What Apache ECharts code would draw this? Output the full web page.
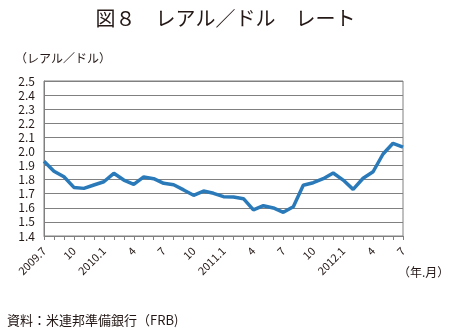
<!DOCTYPE html>
<html><head><meta charset="utf-8">
<script src="https://cdn.jsdelivr.net/npm/echarts@6/dist/echarts.min.js"></script>
<style>html,body{margin:0;padding:0;background:#fff}#c{width:451px;height:336px}</style>
</head><body><div id="c"></div>
<script>
const categories = ['2009.7','2009.8','2009.9','2009.10','2009.11','2009.12',
  '2010.1','2010.2','2010.3','2010.4','2010.5','2010.6','2010.7','2010.8','2010.9','2010.10','2010.11','2010.12',
  '2011.1','2011.2','2011.3','2011.4','2011.5','2011.6','2011.7','2011.8','2011.9','2011.10','2011.11','2011.12',
  '2012.1','2012.2','2012.3','2012.4','2012.5','2012.6','2012.7'];
const rates = [1.93,1.86,1.82,1.745,1.738,1.762,1.785,1.845,1.797,1.767,1.819,1.807,1.774,1.764,1.727,1.689,1.719,1.703,
  1.679,1.677,1.665,1.585,1.615,1.599,1.568,1.608,1.76,1.778,1.807,1.847,1.797,1.731,1.81,1.856,1.982,2.058,2.03];
const tickLabels = {'2009.7':'2009.7','2009.10':'10','2010.1':'2010.1','2010.4':'4','2010.7':'7','2010.10':'10',
  '2011.1':'2011.1','2011.4':'4','2011.7':'7','2011.10':'10','2012.1':'2012.1','2012.4':'4','2012.7':'7'};
const yTicks = {min:1.4, max:2.5, interval:0.1};

const font = '"Noto Sans CJK JP", "Noto Sans", sans-serif';
const chart = echarts.init(document.getElementById('c'), null, {renderer:'canvas'});
chart.setOption({
  animation:false,
  backgroundColor:'#fff',
  title:{text:'図８　レアル／ドル　レート', left:'center', top:3,
    textStyle:{fontFamily:font, fontSize:20, fontWeight:'normal', color:'#231815'}},
  grid:{left:44, right:48, top:81, bottom:100, show:true, borderColor:'#808080', borderWidth:1},
  xAxis:{type:'category', data:categories, boundaryGap:false,
    axisLine:{lineStyle:{color:'#808080', width:1}},
    axisTick:{show:true, interval:0, length:4, inside:false, lineStyle:{color:'#808080'}},
    axisLabel:{interval:0, rotate:45, margin:13, fontFamily:font, fontSize:11, color:'#231815',
      formatter:v => tickLabels[v] || ''},
    splitLine:{show:false}},
  yAxis:{type:'value', min:yTicks.min, max:yTicks.max, interval:yTicks.interval,
    axisLine:{show:true, lineStyle:{color:'#808080'}},
    axisTick:{show:false},
    axisLabel:{margin:9, fontFamily:font, fontSize:12, color:'#231815', formatter:v => v.toFixed(1)},
    splitLine:{lineStyle:{color:'#808080', width:1}}},
  series:[{type:'line', data:rates, symbol:'none', smooth:false,
    lineStyle:{color:'#2a7ab9', width:3.5}}],
  graphic:[
    {type:'text', left:15, top:52, style:{text:'（レアル／ドル）', font:'12px '+font, fill:'#231815'}},
    {type:'text', left:398, top:266, style:{text:'（年.月）', font:'12px '+font, fill:'#231815'}},
    {type:'text', left:7, top:314, style:{text:'資料：米連邦準備銀行（FRB)', font:'13px '+font, fill:'#231815'}}
  ]
});
</script></body></html>
